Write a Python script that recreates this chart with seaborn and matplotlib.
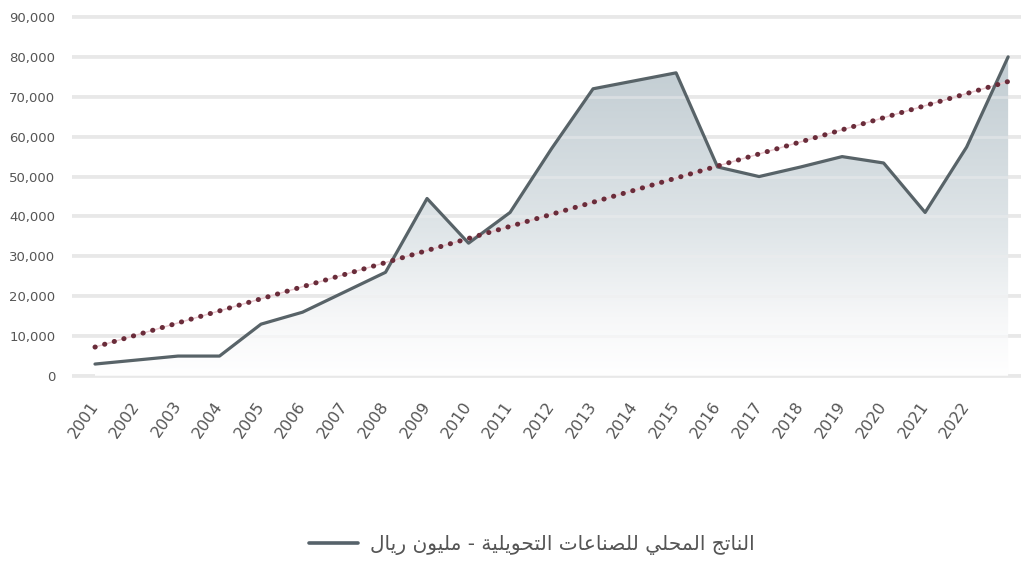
import numpy as np
import pandas as pd
import matplotlib
matplotlib.use("Agg")
import matplotlib.pyplot as plt
from matplotlib.lines import Line2D
from matplotlib.colors import LinearSegmentedColormap
import seaborn as sns

# ---- data ----
years = list(range(2001, 2024))
values = [3000, 4000, 5000, 5000, 13000, 16000, 21000, 26000, 44500, 33300,
          41000, 57000, 72000, 74000, 76000, 52400, 50000, 52400, 55000, 53400,
          41000, 57400, 80000]
tick_labels = [str(y) for y in range(2001, 2023)]
y_ticks = [0, 10000, 20000, 30000, 40000, 50000, 60000, 70000, 80000, 90000]
y_tick_labels = ["0", "10,000", "20,000", "30,000", "40,000", "50,000",
                 "60,000", "70,000", "80,000", "90,000"]
legend_label = "الناتج المحلي للصناعات التحويلية - مليون ريال"


def shape_arabic(text):
    try:
        import arabic_reshaper
        from bidi.algorithm import get_display
        return get_display(arabic_reshaper.reshape(text))
    except Exception:
        pass
    forms = {
        'ا': (0xFE8D, 0xFE8E, None, None),
        'ب': (0xFE8F, 0xFE90, 0xFE91, 0xFE92),
        'ة': (0xFE93, 0xFE94, None, None),
        'ت': (0xFE95, 0xFE96, 0xFE97, 0xFE98),
        'ج': (0xFE9D, 0xFE9E, 0xFE9F, 0xFEA0),
        'ح': (0xFEA1, 0xFEA2, 0xFEA3, 0xFEA4),
        'ر': (0xFEAD, 0xFEAE, None, None),
        'ص': (0xFEB9, 0xFEBA, 0xFEBB, 0xFEBC),
        'ع': (0xFEC9, 0xFECA, 0xFECB, 0xFECC),
        'ل': (0xFEDD, 0xFEDE, 0xFEDF, 0xFEE0),
        'م': (0xFEE1, 0xFEE2, 0xFEE3, 0xFEE4),
        'ن': (0xFEE5, 0xFEE6, 0xFEE7, 0xFEE8),
        'و': (0xFEED, 0xFEEE, None, None),
        'ي': (0xFEF1, 0xFEF2, 0xFEF3, 0xFEF4),
    }
    chars = list(text)
    out = []
    for i, c in enumerate(chars):
        if c not in forms:
            out.append(c)
            continue
        prev = chars[i - 1] if i > 0 else None
        nxt = chars[i + 1] if i + 1 < len(chars) else None
        join_prev = prev in forms and forms[prev][2] is not None
        join_next = nxt in forms and forms[c][2] is not None
        iso, fin, ini, med = forms[c]
        if join_prev and join_next:
            out.append(chr(med))
        elif join_prev:
            out.append(chr(fin))
        elif join_next:
            out.append(chr(ini))
        else:
            out.append(chr(iso))
    return "".join(out[::-1])


df = pd.DataFrame({"idx": np.arange(len(years)), "year": years, "value": values})

sns.set_theme(style="white")
plt.rcParams['font.family'] = ['DejaVu Sans']

fig = plt.figure(figsize=(10.21, 5.66), dpi=100)
ax = fig.add_axes([72 / 1021, 1 - 382 / 566, 1 - 72 / 1021, (382 - 11) / 566])
ymin, ymax = -1500, 91500
x_lo, x_hi = -0.554, 22.31

# gridlines
for yt in y_ticks:
    ax.axhline(yt, color="#e4e4e4", lw=2.6, zorder=0)
    ax.axhline(yt, color="#eeeeee", lw=2.0, alpha=0.45, zorder=2.5)

# gradient fill under the line
fill = ax.fill_between(df["idx"], df["value"], 0, color="none", lw=0)
cmap = LinearSegmentedColormap.from_list(
    "g", [(0.0, "#ffffff"), (0.18, "#f6f7f8"), (0.45, "#dfe5e8"), (1.0, "#c0cbd1")])
grad = np.linspace(0, 1, 256).reshape(-1, 1)
im = ax.imshow(grad, extent=[0, len(years) - 1, 0, 82000], origin="lower",
               aspect="auto", cmap=cmap, zorder=1)
path = fill.get_paths()[0]
im.set_clip_path(path, transform=ax.transData)

# main line
sns.lineplot(data=df, x="idx", y="value", color="#586368", lw=2.3, ax=ax, zorder=3)

# trend line (linear fit)
sns.regplot(data=df, x="idx", y="value", scatter=False, ci=None, ax=ax, truncate=True,
            line_kws=dict(color="#ecc9d0", lw=1.0, zorder=2.8))
sns.regplot(data=df, x="idx", y="value", scatter=False, ci=None, ax=ax, truncate=True,
            line_kws=dict(color="#6a2c3a", lw=3.6, linestyle=(0, (0.05, 1.95)),
                          dash_capstyle="round", zorder=4))
ax.set_xlim(x_lo, x_hi)
ax.set_ylim(ymin, ymax)

# ticks
ax.set_yticks(y_ticks)
ax.set_yticklabels(y_tick_labels)
ax.set_xticks(np.arange(len(tick_labels)))
ax.set_xticklabels(tick_labels, rotation=55, ha="right", va="center",
                   rotation_mode="anchor")
ax.tick_params(axis="y", length=0, pad=12, labelsize=9.5, labelcolor="#555555")
ax.tick_params(axis="x", length=0, pad=15, labelsize=11.5, labelcolor="#555555")
ax.set_xlabel("")
ax.set_ylabel("")
for s in ax.spines.values():
    s.set_visible(False)
ax.grid(False)

# legend
handle = Line2D([0], [0], color="#56626a", lw=2.6)
fig.legend([handle], [shape_arabic(legend_label)], loc="center",
           bbox_to_anchor=(532 / 1021, 1 - 545 / 566), frameon=False,
           handlelength=2.4, handletextpad=0.6, labelcolor="#555555",
           prop={"family": ["DejaVu Sans"], "size": 14.5})

fig.savefig("out.png", dpi=100)
